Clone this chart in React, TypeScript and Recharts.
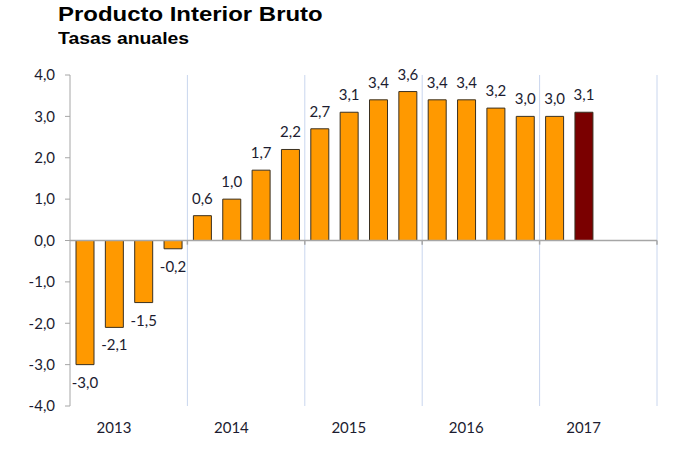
import { Bar, BarChart, Cell, ReferenceLine, XAxis, YAxis } from 'recharts'

const quarters = [
  '2013-1', '2013-2', '2013-3', '2013-4',
  '2014-1', '2014-2', '2014-3', '2014-4',
  '2015-1', '2015-2', '2015-3', '2015-4',
  '2016-1', '2016-2', '2016-3', '2016-4',
  '2017-1', '2017-2', '2017-3', '2017-4',
]
const growth: (number | null)[] = [
  -3.0, -2.1, -1.5, -0.2,
  0.6, 1.0, 1.7, 2.2,
  2.7, 3.1, 3.4, 3.6,
  3.4, 3.4, 3.2, 3.0,
  3.0, 3.1, null, null,
]
const yearStarts = ['2014-1', '2015-1', '2016-1', '2017-1']
const yTicks = [-4, -3, -2, -1, 0, 1, 2, 3, 4]

const data = quarters.map((q, i) => ({ q, value: growth[i] }))
const lastIndex = 17

const fmt = (v: number) => v.toFixed(1).replace('.', ',')
const textColor = '#1c1c30'
const font = 'Lato, "Open Sans", sans-serif'

function ValueLabel(props: any) {
  const { x, y, width, height, value } = props
  if (value == null) return null
  const cx = x + width / 2
  const neg = value < 0
  const top = Math.min(y, y + height)
  const bottom = Math.max(y, y + height)
  return (
    <text
      x={cx}
      y={neg ? bottom + 23 : top - 12}
      textAnchor="middle"
      fontSize={15}
      fontFamily={font}
      fill={textColor}
    >
      {fmt(value)}
    </text>
  )
}

// year label is drawn under the 2nd quarter of each year
function YearTick(props: any) {
  const { x, y, payload } = props
  const q = String(payload.value)
  if (!q.endsWith('-2')) return null
  return (
    <text
      x={x}
      y={y}
      dy="0.71em"
      textAnchor="middle"
      fontSize={15}
      fontFamily={font}
      fill={textColor}
    >
      {q.slice(0, 4)}
    </text>
  )
}

const titleStyle = {
  position: 'absolute' as const,
  left: 58,
  fontFamily: '"Liberation Sans", Arial, sans-serif',
  fontWeight: 'bold' as const,
  lineHeight: 1,
  color: '#000',
  whiteSpace: 'nowrap' as const,
  transform: 'scaleX(1.14)',
  transformOrigin: 'left top',
}

export default function App() {
  return (
    <div style={{ position: 'absolute', left: 0, top: 0, width: 680, height: 449, background: '#fff' }}>
      <div style={{ ...titleStyle, top: 3, fontSize: 21 }}>Producto Interior Bruto</div>
      <div style={{ ...titleStyle, top: 30, fontSize: 17 }}>Tasas anuales</div>
      <div style={{ position: 'absolute', left: 0, top: 0 }}>
        <BarChart
          width={680}
          height={449}
          data={data}
          margin={{ top: 75, right: 23, bottom: 13, left: 10 }}
        >
          <XAxis
            dataKey="q"
            interval={0}
            axisLine={false}
            tickLine={false}
            tickSize={6}
            tickMargin={10}
            height={30}
            tick={<YearTick />}
          />
          <YAxis
            domain={[-4, 4]}
            ticks={yTicks}
            tickFormatter={fmt}
            width={60}
            tickSize={5}
            tickMargin={10}
            axisLine={{ stroke: '#a6a6a6' }}
            tickLine={{ stroke: '#a6a6a6' }}
            tick={{ fontSize: 15, fontFamily: font, fill: textColor }}
          />
          {yearStarts.map((q) => (
            <ReferenceLine key={q} x={q} position="start" stroke="#c9d6ee" strokeWidth={1} />
          ))}
          <ReferenceLine x="2017-4" position="end" stroke="#c9d6ee" strokeWidth={1} />
          <ReferenceLine y={0} stroke="#a6a6a6" strokeWidth={1.5} />
          {yearStarts.map((q) => (
            <ReferenceLine
              key={'t' + q}
              segment={[{ x: q, y: 0 }, { x: q, y: -0.1 }]}
              position="start"
              stroke="#a6a6a6"
              strokeWidth={1.5}
            />
          ))}
          <ReferenceLine
            segment={[{ x: '2017-4', y: 0 }, { x: '2017-4', y: -0.1 }]}
            position="end"
            stroke="#a6a6a6"
            strokeWidth={1.5}
          />
          <Bar
            dataKey="value"
            barSize={18}
            fill="#ff9900"
            stroke="#3a3020"
            strokeWidth={1}
            isAnimationActive={false}
            label={<ValueLabel />}
          >
            {data.map((d, i) => (
              <Cell key={d.q} fill={i === lastIndex ? '#7a0000' : '#ff9900'} />
            ))}
          </Bar>
        </BarChart>
      </div>
    </div>
  )
}
